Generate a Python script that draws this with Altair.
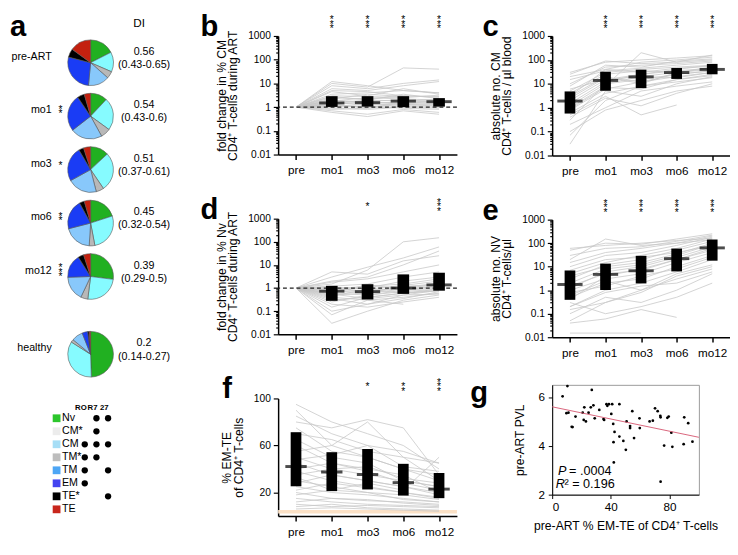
import altair as alt
import pandas as pd

FONT = "Liberation Sans"
TIMES = ["pre", "mo1", "mo3", "mo6", "mo12"]
LOG_MAJOR = [0.01, 0.1, 1, 10, 100, 1000]

# ---------------- panel a ----------------
PIE_ROWS = ["pre-ART", "mo1", "mo3", "mo6", "mo12"]
PIE_STARS = ["", "*\n*", "*", "*\n*", "*\n*\n*"]
SUBSETS = ["Nv", "CM*", "CM", "TM*", "TM", "EM", "TE*", "TE"]
PIE_COLORS = ["#21b021", "#ececec", "#86fbff", "#b8b8b8", "#88c8fb", "#1a3cf5", "#000000", "#c3210f"]
LEGEND_COLORS = ["#2cc62c", "#ececec", "#a6def6", "#bdbdbd", "#4da6f5", "#4444f0", "#000000", "#c8261c"]
PIE_PRE = [17.5, 0, 14, 5, 15, 27.5, 6, 15]
PIE_MO1 = [12, 0, 23, 7, 22.5, 26, 5, 4.5]
PIE_MO3 = [13, 0, 27.5, 5.5, 21, 24.5, 3.5, 5]
PIE_MO6 = [20, 0, 27, 4, 20, 21, 3.5, 4.5]
PIE_MO12 = [27, 0, 25, 5, 17.5, 16.5, 4, 5]
PIE_HEALTHY = [49.5, 0, 34.5, 2, 8, 4, 1, 1]
DI_VALUES = ["0.56", "0.54", "0.51", "0.45", "0.39"]
DI_RANGES = ["(0.43-0.65)", "(0.43-0.6)", "(0.37-0.61)", "(0.32-0.54)", "(0.29-0.5)"]
HEALTHY_DI = ["0.2", "(0.14-0.27)"]
LEG_RO = [0, 0, 1, 1, 1, 1, 0, 0]
LEG_R7 = [1, 1, 1, 1, 0, 0, 0, 0]
LEG_27 = [1, 0, 1, 0, 1, 0, 1, 0]
LEG_COLS = ["RO", "R7", "27"]

# ---------------- panel b: fold change %CM ----------------
B_LINES = [
    [1, 1.5, 1.8, 2.0, 1.7], [1, 2.5, 2.2, 3.0, 2.6], [1, 10, 7, 45, 40], [1, 6, 5, 8, 12],
    [1, 1.2, 1.0, 1.3, 1.1], [1, 0.9, 0.8, 1.0, 0.9], [1, 3.5, 4, 5, 4], [1, 1.8, 2.5, 2.2, 2.0],
    [1, 0.7, 0.5, 0.8, 0.6], [1, 1.3, 1.6, 1.5, 1.8], [1, 4.5, 3.0, 6.0, 3.5], [1, 2.0, 1.4, 1.7, 1.4],
    [1, 1.1, 1.3, 1.2, 1.3], [1, 0.8, 0.9, 1.1, 1.0], [1, 3.0, 2.8, 2.5, 3.2], [1, 2.2, 3.5, 2.8, None],
    [1, 1.6, 1.2, 1.4, 1.5], [1, 0.6, 0.4, 0.7, 0.5], [1, 8, 6, 10, 14], [1, 1.4, 2.0, 3.5, 2.3],
    [1, 1.9, 1.7, 1.3, 1.2], [1, 5, 4.5, 3.0, 2.8], [1, 1.0, 1.1, 0.9, 0.8], [1, 2.8, 2.0, 1.8, 2.2],
    [1, 1.3, 0.9, 1.6, 1.9], [1, 12, 8, 5, 4],
]
B_Q1 = [None, 1.02, 1.05, 1.0, 1.05]
B_MED = [None, 1.5, 1.55, 1.8, 1.7]
B_Q3 = [None, 2.9, 2.9, 2.9, 2.4]
B_STARS = ["", "*\n*\n*", "*\n*\n*", "*\n*\n*", "*\n*\n*"]

# ---------------- panel c: absolute CM ----------------
C_LINES = [
    [2, 15, 20, 30, 40], [30, 80, 100, 120, 150], [0.03, 5, 3, 10, 20], [0.07, 2, 8, 15, 25],
    [0.3, 10, 15, 25, 35], [5, 30, 40, 50, 60], [1, 8, 200, 80, 100], [0.5, 3, 0.5, 1.3, None],
    [10, 50, 60, 70, 90], [3, 20, 10, 30, 50], [0.2, 1, 5, 8, 12], [1.5, 12, 25, 40, 60],
    [20, 40, 30, 45, 55], [0.8, 6, 12, 20, 30], [4, 25, 35, 30, 45], [0.1, 0.8, 2, 5, 8],
    [2.5, 18, 12, 25, 35], [8, 60, 50, 90, 110], [0.6, 4, 8, 12, 18], [15, 35, 45, 60, 80],
    [1.2, 10, 20, 18, 30], [0.4, 2.5, 1.2, 4, 10], [6, 15, 25, 35, 45], [3, 40, 80, 100, 130],
    [0.9, 7, 6, 15, 22], [25, 90, 70, 80, 160],
]
C_Q1 = [0.57, 5.1, 6.6, 16, 25]
C_MED = [1.9, 13.8, 19.5, 29.5, 40]
C_Q3 = [4.8, 32, 39, 46, 68]
C_STARS = ["", "*\n*\n*", "*\n*\n*", "*\n*\n*", "*\n*\n*"]

# ---------------- panel d: fold change %Nv ----------------
D_LINES = [
    [1, 0.7, 0.8, 1.0, 1.4], [1, 0.5, 0.6, 0.9, 1.2], [1, 0.3, 0.4, 0.6, 0.9], [1, 2.0, 3.0, 10, 40],
    [1, 1.5, 6, 100, 150], [1, 0.1, 0.2, 0.5, 0.8], [1, 0.03, 0.1, 0.3, 0.5], [1, 1.2, 1.5, 3, 5],
    [1, 0.8, 1.0, 2, 3], [1, 0.4, 0.3, 0.4, 0.6], [1, 0.6, 0.5, 0.8, 1.0], [1, 3, 8, 20, 60],
    [1, 0.9, 1.2, 1.5, 2.5], [1, 0.2, 0.15, 0.25, 0.4], [1, 1.0, 0.7, 1.1, 1.6], [1, 0.45, 0.9, 1.3, 2.0],
    [1, 0.07, 0.3, 0.2, None], [1, 0.35, 0.2, 0.35, 0.7], [1, 1.8, 2.5, 5, 10], [1, 0.6, 1.4, 0.9, 1.1],
    [1, 0.25, 0.5, 0.7, 0.9], [1, 5, 4, 15, 25], [1, 0.75, 0.6, 1.2, 1.3], [1, 0.15, 0.4, 0.6, 0.75],
    [1, 1.1, 0.9, 0.6, 0.8], [1, 0.55, 0.35, 0.5, 0.55],
]
D_Q1 = [None, 0.28, 0.32, 0.56, 0.77]
D_MED = [None, 0.73, 0.7, 1.0, 1.37]
D_Q3 = [None, 1.25, 1.47, 3.9, 4.6]
D_STARS = ["", "", "\n\n*", "", "*\n*\n*"]

# ---------------- panel e: absolute Nv ----------------
E_LINES = [
    [1.5, 5, 7, 20, 60], [50, 100, 90, 150, 250], [0.015, 0.015, 0.015, None, None], [0.05, 0.3, 1, 3, 8],
    [0.2, 1, 2, 6, 20], [5, 15, 30, 60, 150], [0.5, 2, 3, 10, 30], [20, 150, 80, 100, 200],
    [10, 30, 40, 80, 180], [0.3, 0.1, 0.2, 0.5, 2], [2, 8, 12, 30, 90], [1, 3, 5, 15, 40],
    [0.1, 0.5, 0.3, 1, 5], [30, 60, 70, 120, 220], [3, 12, 20, 50, 120], [0.8, 1.5, 4, 8, 25],
    [0.04, 0.06, 0.15, 0.07, None], [7, 20, 25, 40, 80], [0.4, 4, 8, 20, 50], [15, 40, 60, 100, 140],
    [1.2, 6, 10, 25, 70], [0.2, 0.8, 1.5, 2, 6], [4, 10, 15, 35, 100], [0.6, 2.5, 1, 5, 12],
    [60, 80, 100, 130, 160], [0.15, 0.3, 0.8, 4, 10],
]
E_Q1 = [0.39, 1.02, 1.94, 6.3, 18]
E_MED = [1.75, 4.7, 6.7, 22, 63]
E_Q3 = [6.9, 13.5, 29, 59, 143]
E_STARS = ["", "*\n*\n*", "*\n*\n*", "*\n*\n*", "*\n*\n*"]

# ---------------- panel f: % EM-TE ----------------
F_LINES = [
    [95, 80, 70, 60, 40], [90, 60, 80, 50, 30], [85, 70, 60, 55, 45], [80, 75, 82, 75, 35],
    [75, 55, 50, 40, 30], [70, 65, 55, 50, 45], [65, 50, 45, 30, 25], [60, 45, 40, 35, 20],
    [55, 60, 50, 40, 35], [50, 40, 35, 30, 25], [45, 35, 30, 25, 20], [40, 45, 38, 28, 22],
    [38, 30, 25, 20, 15], [35, 40, 42, 32, 28], [30, 25, 20, 18, 14], [28, 35, 30, 25, 18],
    [25, 20, 18, 15, 12], [22, 28, 24, 20, 16], [20, 15, 13, 12, 10], [18, 22, 20, 14, 12],
    [15, 12, 10, 9, 8], [12, 15, 14, 11, 9], [10, 8, 9, 8, 7], [8, 10, 7, 6, 5],
    [6, 7, 6, 5, 4], [48, 52, 60, 42, 38], [33, 22, 28, 22, 50],
]
F_Q1 = [25.3, 21.2, 22.6, 17.4, 15.2]
F_MED = [42.1, 37.5, 35.3, 28.4, 22.9]
F_Q3 = [71.3, 54.3, 57, 44.4, 36.6]
F_STARS = ["", "", "\n\n*", "\n*\n*", "*\n*\n*"]
F_BAND = [2.2, 5.2]

# ---------------- panel g: scatter ----------------
G_X = [7.1, 10.4, 9.7, 11.1, 13.3, 13.9, 15.9, 20.8, 21.9, 21.5, 23.0, 24.8, 26.3, 27.0, 28.1, 29.0,
       32.1, 35.0, 35.4, 37.0, 37.6, 38.7, 40.3, 40.9, 41.6, 41.8, 42.0, 42.5, 45.8, 45.8, 48.5, 50.2,
       50.7, 53.1, 53.1, 54.6, 55.8, 59.5, 59.7, 66.4, 68.6, 70.1, 71.9, 73.7, 73.9, 73.9, 76.3, 78.5,
       79.4, 81.2, 81.9, 89.6, 90.0, 92.7, 95.6]
G_Y = [6.03, 6.45, 5.34, 5.36, 4.78, 4.77, 5.2, 5.36, 5.58, 5.06, 5.0, 5.36, 5.58, 6.29, 5.66, 5.13,
       5.47, 5.1, 5.06, 5.71, 5.64, 5.71, 5.31, 5.71, 4.9, 4.15, 3.32, 4.57, 5.71, 4.38, 4.2, 3.84,
       5.0, 4.73, 4.81, 5.42, 4.32, 5.13, 4.73, 5.0, 5.03, 5.54, 5.42, 5.23, 2.53, 5.17, 4.01, 5.15,
       5.2, 4.54, 3.96, 4.07, 5.17, 4.93, 4.17]
G_FIT_X = [0, 100]
G_FIT_Y = [5.6, 4.35]

# ================= helpers =================
LABEL_TEST = "indexof([0.01,0.1,1,10,100,1000], datum.value) >= 0"
log_ticks = []
for m in LOG_MAJOR[:-1]:
    for k in range(1, 10):
        log_ticks.append(round(m * k, 6))
log_ticks.append(1000)


def x_enc(axis=True):
    ax = alt.Axis(title=None, labelAngle=0, domainColor="black", domainWidth=1.5, tickColor="black",
                  tickWidth=1.5, tickSize=5, labelFontSize=12, labelPadding=6, labelColor="black")
    return alt.X("time:N", sort=TIMES, scale=alt.Scale(type="point", domain=TIMES, padding=0.5),
                 axis=ax if axis else None)


def title_letter(letter, offset, baseline="alphabetic", dy=0):
    return alt.TitleParams(letter, orient="left", anchor="end", frame="group", angle=0, align="right",
                           baseline=baseline, dy=dy, fontSize=30, fontWeight="bold", font=FONT,
                           offset=offset, color="black")


def panel(letter, lines, q1, med, q3, stars, ytitle, w, h, kind, offset, dashed=False, box_w=12, med_w=26):
    rows = []
    for i, line in enumerate(lines):
        for t, v in zip(TIMES, line):
            if v is not None:
                rows.append({"id": i, "time": t, "value": v})
    df = pd.DataFrame(rows)
    box = pd.DataFrame({"time": TIMES, "q1": q1, "med": med, "q3": q3}).dropna()
    st = pd.DataFrame({"time": TIMES, "stars": stars})
    st = st[st.stars != ""]
    common = dict(title=ytitle, titleFontSize=12.5, titleFontWeight="normal", titleLineHeight=12,
                  titlePadding=8, labelFontSize=10.5, labelPadding=3, domainColor="black", domainWidth=1.5,
                  tickColor="black", tickWidth=1.2, labelColor="black", titleColor="black",
                  labelOverlap=False)
    if kind == "log":
        ysc = alt.Scale(type="log", domain=[0.01, 1000])
        yax = alt.Axis(values=log_ticks, labelExpr=LABEL_TEST + " ? datum.value + '' : ''",
                       tickSize={"condition": {"test": LABEL_TEST, "value": 5}, "value": 2.5}, **common)
    else:
        ysc = alt.Scale(domain=[0, 100], nice=False)
        yax = alt.Axis(values=[20, 40, 60, 80, 100],
                       labelExpr="datum.value % 40 == 20 ? datum.label : ''", tickSize=5, **common)
    layers = []
    if kind == "lin":
        band = pd.DataFrame({"lo": [F_BAND[0]], "hi": [F_BAND[1]]})
        layers.append(alt.Chart(band).mark_rect(color="#fbe1c6").encode(
            y=alt.Y("lo:Q", scale=ysc, axis=yax), y2="hi:Q"))
    layers.append(alt.Chart(df).mark_line(color="#c8c8c8", strokeWidth=0.8).encode(
        x=x_enc(), y=alt.Y("value:Q", scale=ysc, axis=yax), detail="id:N"))
    if dashed:
        ref = pd.DataFrame({"ref": [1]})
        layers.append(alt.Chart(ref).mark_rule(color="#222", strokeDash=[4, 3], strokeWidth=1.2).encode(
            y=alt.Y("ref:Q", scale=ysc)))
    layers.append(alt.Chart(box).mark_rule(color="black", strokeWidth=box_w, strokeCap="butt").encode(
        x=x_enc(), y=alt.Y("q1:Q", scale=ysc), y2="q3:Q"))
    layers.append(alt.Chart(box).mark_tick(color="black", thickness=3, size=med_w).encode(
        x=x_enc(), y=alt.Y("med:Q", scale=ysc)))
    if len(st):
        layers.append(alt.Chart(st).mark_text(fontSize=10.5, baseline="bottom", lineBreak="\n",
                                              lineHeight=4.5, color="black").encode(
            x=x_enc(), y=alt.value(-11), text="stars:N"))
    return alt.layer(*layers).properties(width=w, height=h, title=title_letter(letter, offset))


# ================= panel a =================
PIE_VALUES = [PIE_PRE, PIE_MO1, PIE_MO3, PIE_MO6, PIE_MO12]


def pie_row(label, stars, vals, di_lines, height, first=False):
    prs = [{"subset": s, "k": k, "pct": v, "col": PIE_COLORS[k]}
           for k, (s, v) in enumerate(zip(SUBSETS, vals)) if v > 0]
    arc = alt.Chart(pd.DataFrame(prs)).mark_arc(radius=23.5, stroke="#555", strokeWidth=0.6).encode(
        theta=alt.Theta("pct:Q", stack="normalize"), color=alt.Color("col:N", scale=None),
        order=alt.Order("k:Q"))
    info = pd.DataFrame({"lab": [label], "stars": [stars], "di": [di_lines[0] + "\n" + di_lines[1]]})
    layers = [arc,
              alt.Chart(info).mark_text(align="right", dx=-40, dy=-6, fontSize=11, color="black").encode(text="lab:N"),
              alt.Chart(info).mark_text(dx=55, dy=-11, fontSize=11, lineBreak="\n", lineHeight=13.5,
                                        baseline="middle", color="black").encode(text="di:N")]
    if stars:
        n = stars.count("*")
        layers.append(alt.Chart(info).mark_text(dx=-31, dy=-4 - (n - 1) * 2.25, fontSize=10.5, lineBreak="\n",
                                                lineHeight=4.5, baseline="middle", color="black").encode(text="stars:N"))
    if first:
        hdr = pd.DataFrame({"t": ["DI"], "a": ["a"]})
        layers.append(alt.Chart(hdr).mark_text(dx=50, dy=-41, fontSize=12, color="black").encode(text="t:N"))
        layers.append(alt.Chart(hdr).mark_text(dx=-83, dy=-27, align="left", baseline="alphabetic",
                                               fontSize=30, fontWeight="bold", color="black").encode(text="a:N"))
    return alt.layer(*layers).properties(width=12, height=height)


rows_a = []
for i, r in enumerate(PIE_ROWS):
    rows_a.append(pie_row(r, PIE_STARS[i], PIE_VALUES[i], [DI_VALUES[i], DI_RANGES[i]], 55, first=(i == 0)))
rows_a.append(pie_row("healthy", "", PIE_HEALTHY, HEALTHY_DI, 105))

leg_df = pd.DataFrame({"name": SUBSETS, "col": LEGEND_COLORS, "pos": ["RO"] * len(SUBSETS)})
dots = []
for c, flags in zip(LEG_COLS, [LEG_RO, LEG_R7, LEG_27]):
    for n, f in zip(SUBSETS, flags):
        if f:
            dots.append({"name": n, "pos": c})
dot_df = pd.DataFrame(dots)
lx = alt.X("pos:N", scale=alt.Scale(type="point", domain=LEG_COLS, padding=0), axis=None)
ly = alt.Y("name:N", scale=alt.Scale(type="point", domain=SUBSETS, padding=2.2), axis=None)
sq = alt.Chart(leg_df).mark_square(size=64, xOffset=-29, opacity=1).encode(
    x=lx, y=ly, color=alt.Color("col:N", scale=None))
names = alt.Chart(leg_df).mark_text(align="left", dx=-23.5, fontSize=11, color="black").encode(
    x=lx, y=ly, text="name:N")
dmarks = alt.Chart(dot_df).mark_circle(size=42, color="black", opacity=1).encode(x=lx, y=ly)
lh = pd.DataFrame({"pos": LEG_COLS, "name": ["Nv"] * 3})
lhead = alt.Chart(lh).mark_text(fontWeight="bold", fontSize=8, dx=-4, dy=-11, color="black").encode(
    x=lx, y=ly, text="pos:N")
legend = alt.layer(sq, names, dmarks, lhead).properties(width=24, height=120.5)

col_a = alt.vconcat(*rows_a, legend, spacing=0, bounds="flush")

# ================= panels b-f =================
b = panel("b", B_LINES, B_Q1, B_MED, B_Q3, B_STARS, ["fold change in % CM", "CD4⁺ T-cells during ART"], 184, 122, "log", -21, dashed=True)
d = panel("d", D_LINES, D_Q1, D_MED, D_Q3, D_STARS, ["fold change in % Nv", "CD4⁺ T-cells during ART"], 184, 119, "log", -21, dashed=True)
f = panel("f", F_LINES, F_Q1, F_MED, F_Q3, F_STARS, ["% EM-TE", "of CD4⁺ T-cells"], 184, 121, "lin", -21, box_w=11, med_w=22)
c = panel("c", C_LINES, C_Q1, C_MED, C_Q3, C_STARS, ["absolute no. CM", "CD4⁺ T-cells / µl blood"], 183, 123, "log", -26, box_w=11)
e = panel("e", E_LINES, E_Q1, E_MED, E_Q3, E_STARS, ["absolute no. NV", "CD4⁺ T-cells/µl"], 183, 121, "log", -26, box_w=11)

# ================= panel g =================
g_df = pd.DataFrame({"x": G_X, "y": G_Y})
fit_df = pd.DataFrame({"x": G_FIT_X, "y": G_FIT_Y})
gxs = alt.Scale(domain=[0, 100], nice=False)
gys = alt.Scale(domain=[2, 6.5], nice=False, zero=False)
gax = alt.Axis(values=[0, 20, 40, 60, 80, 100], title="pre-ART % EM-TE of CD4⁺ T-cells", titleFontSize=12.5,
               titleFontWeight="normal", labelFontSize=12, tickSize=4, domainColor="black",
               tickColor="black", labelColor="black", titleColor="black", titlePadding=8, labelPadding=3)
gay = alt.Axis(values=[2, 3, 4, 5, 6], labelExpr="datum.value % 2 == 0 ? datum.label : ''", labelOverlap=False,
               title="pre-ART PVL", titleFontSize=12.5, titleFontWeight="normal", labelFontSize=12,
               tickSize=4, domainColor="black", tickColor="black", labelColor="black",
               titleColor="black", titlePadding=12, labelPadding=4)
g_pts = alt.Chart(g_df).mark_circle(size=8, color="black", opacity=1).encode(
    x=alt.X("x:Q", scale=gxs, axis=gax), y=alt.Y("y:Q", scale=gys, axis=gay))
g_fit = alt.Chart(fit_df).mark_line(color="#d9627a", strokeWidth=1).encode(
    x=alt.X("x:Q", scale=gxs), y=alt.Y("y:Q", scale=gys))
ann_it = pd.DataFrame({"x": [4.0, 2.5], "y": [2.95, 2.45], "t": ["P", "R"]})
ann_rm = pd.DataFrame({"x": [11.5, 8.4], "y": [2.95, 2.45], "t": ["= .0004", "² = 0.196"]})
g_it = alt.Chart(ann_it).mark_text(align="left", fontSize=13, fontStyle="italic", color="black").encode(
    x=alt.X("x:Q", scale=gxs), y=alt.Y("y:Q", scale=gys), text="t:N")
g_rm = alt.Chart(ann_rm).mark_text(align="left", fontSize=13, color="black").encode(
    x=alt.X("x:Q", scale=gxs), y=alt.Y("y:Q", scale=gys), text="t:N")
g = alt.layer(g_pts, g_fit, g_it, g_rm).properties(
    width=151, height=113,
    title=title_letter("g", 8, baseline="top", dy=-6),
    view=alt.ViewBackground(stroke="#9a9a9a", strokeWidth=1))

col_b = alt.vconcat(b, d, f, spacing=20)
col_c = alt.vconcat(c, e, g, spacing=20)

chart = alt.hconcat(col_a, alt.hconcat(col_b, col_c, spacing=12), spacing=30).properties(
    padding={"left": 2, "top": -3, "right": 0, "bottom": 0}
).configure(font=FONT).configure_view(stroke=None).configure_axis(grid=False, labelFont=FONT, titleFont=FONT)

chart.save("out.html", embed_options={"renderer": "svg", "actions": False})
